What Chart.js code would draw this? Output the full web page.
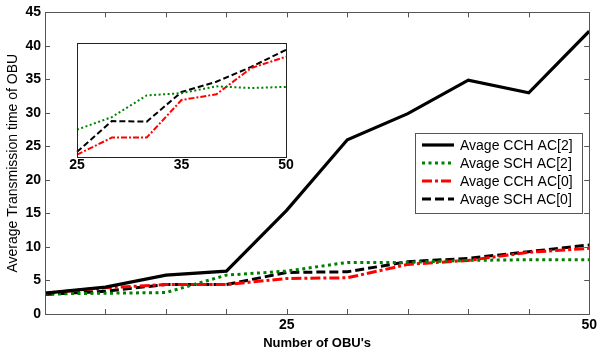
<!DOCTYPE html>
<html>
<head>
<meta charset="utf-8">
<script src="https://cdn.jsdelivr.net/npm/chart.js@4"></script>
<style>
  body { margin: 0; background: #fff; }
  #wrap { position: relative; width: 600px; height: 353px; }
  #mainChart { position: absolute; left: 0; top: 0; }
  #insetChart { position: absolute; left: 60px; top: 35px; }
</style>
</head>
<body>
<div id="wrap">
  <canvas id="mainChart" width="600" height="353"></canvas>
  <canvas id="insetChart" width="240" height="150"></canvas>
</div>
<script>
// numero de OBU (eje x principal)
const obuCounts = [5, 10, 15, 20, 25, 30, 35, 40, 45, 50];

// tiempos medios
const cchAc2 = [3.1, 4.0, 5.8, 6.4, 15.5, 26.0, 29.9, 34.9, 33.0, 42.2];
const schAc2 = [3.0, 3.1, 3.2, 5.8, 6.4, 7.7, 7.7, 8.0, 8.1, 8.1];
const cchAc0 = [3.1, 3.9, 4.4, 4.4, 5.3, 5.4, 7.4, 8.0, 9.2, 9.8];
const schAc0 = [2.9, 3.4, 4.4, 4.4, 6.2, 6.3, 7.8, 8.3, 9.3, 10.3];

const seriesNames = ['Avage CCH AC[2]', 'Avage SCH AC[2]', 'Avage CCH AC[0]', 'Avage SCH AC[0]'];

// recuadro interior (sin escala y visible)
const insetLabels = ['25', '', '', '35', '', '', '50'];
const insetSchAc2 = [2.4, 3.5, 5.4, 5.6, 6.2, 6.05, 6.15];
const insetCchAc0 = [0.2, 1.7, 1.7, 5.0, 5.5, 7.8, 8.8];
const insetSchAc0 = [0.45, 3.15, 3.1, 5.7, 6.6, 7.9, 9.4];

Chart.defaults.font.family = '"Liberation Sans", Arial, sans-serif';
Chart.defaults.color = '#000';

const toPoints = ys => ys.map((y, i) => ({ x: obuCounts[i], y: y }));

// marcas hacia dentro en los cuatro lados + marco
const boxTicks = {
    id: 'boxTicks',
    afterDraw(chart, args, opts) {
        const ctx = chart.ctx;
        const a = chart.chartArea;
        const len = opts.len || 0;
        ctx.save();
        ctx.strokeStyle = opts.color;
        ctx.lineWidth = opts.width;
        ctx.beginPath();
        if (len > 0) {
            const xs = chart.scales.x;
            xs.ticks.forEach(t => {
                const px = Math.round(xs.getPixelForValue(t.value)) + 0.5;
                ctx.moveTo(px, a.bottom); ctx.lineTo(px, a.bottom - len);
                ctx.moveTo(px, a.top); ctx.lineTo(px, a.top + len);
            });
            const ys = chart.scales.y;
            ys.ticks.forEach(t => {
                const py = Math.round(ys.getPixelForValue(t.value)) + 0.5;
                ctx.moveTo(a.left, py); ctx.lineTo(a.left + len, py);
                ctx.moveTo(a.right, py); ctx.lineTo(a.right - len, py);
            });
        }
        ctx.stroke();
        ctx.strokeRect(Math.round(a.left) + 0.5, Math.round(a.top) + 0.5,
            Math.round(a.right - a.left), Math.round(a.bottom - a.top));
        ctx.restore();
    }
};

// leyenda dentro del area de datos
const boxLegend = {
    id: 'boxLegend',
    afterDraw(chart, args, opts) {
        const ctx = chart.ctx;
        ctx.save();
        ctx.fillStyle = '#fff';
        ctx.fillRect(opts.x, opts.y, opts.w, opts.h);
        ctx.strokeStyle = '#555';
        ctx.lineWidth = 1;
        ctx.strokeRect(opts.x + 0.5, opts.y + 0.5, opts.w, opts.h);
        ctx.font = '14px "Liberation Sans", Arial, sans-serif';
        ctx.textBaseline = 'middle';
        chart.data.datasets.forEach((ds, i) => {
            const cy = opts.y + 12 + i * 18;
            ctx.beginPath();
            ctx.setLineDash(ds.borderDash || []);
            ctx.strokeStyle = ds.borderColor;
            ctx.lineWidth = ds.borderWidth;
            ctx.moveTo(opts.x + 7, cy);
            ctx.lineTo(opts.x + 39, cy);
            ctx.stroke();
            ctx.setLineDash([]);
            ctx.fillStyle = '#000';
            ctx.fillText(ds.label, opts.x + 45, cy + 1);
        });
        ctx.restore();
    }
};

new Chart(document.getElementById('mainChart'), {
    type: 'line',
    data: {
        datasets: [
            { label: seriesNames[0], data: toPoints(cchAc2), borderColor: '#000', borderWidth: 3.2, borderDash: [] },
            { label: seriesNames[1], data: toPoints(schAc2), borderColor: '#008000', borderWidth: 3, borderDash: [3, 3.5] },
            { label: seriesNames[2], data: toPoints(cchAc0), borderColor: '#ff0000', borderWidth: 3, borderDash: [10, 3, 3, 3] },
            { label: seriesNames[3], data: toPoints(schAc0), borderColor: '#000', borderWidth: 3, borderDash: [9, 4] }
        ]
    },
    options: {
        responsive: false,
        animation: false,
        layout: { padding: { left: 0, top: 11, right: 10, bottom: 0 } },
        elements: { point: { radius: 0 }, line: { tension: 0, borderCapStyle: 'butt' } },
        plugins: {
            legend: { display: false },
            tooltip: { enabled: false },
            boxTicks: { color: '#555', width: 1, len: 5 },
            boxLegend: { x: 415, y: 133, w: 167, h: 80 }
        },
        scales: {
            x: {
                type: 'linear',
                min: 5,
                max: 50,
                afterFit: s => { s.height = 39; },
                grid: { display: false, drawTicks: false },
                border: { display: false },
                ticks: {
                    stepSize: 5,
                    padding: 3,
                    maxRotation: 0,
                    autoSkip: false,
                    font: { size: 14, weight: 'bold' },
                    callback: v => (v === 25 || v === 50) ? String(v) : ''
                },
                title: {
                    display: true,
                    text: "Number of OBU's",
                    font: { size: 13, weight: 'bold' },
                    padding: { top: 0, bottom: 2 }
                }
            },
            y: {
                min: 0,
                max: 45,
                afterFit: s => { s.width = 45; },
                grid: { display: false, drawTicks: false },
                border: { display: false },
                ticks: { stepSize: 5, padding: 4, font: { size: 14, weight: 'bold' } },
                title: {
                    display: true,
                    text: 'Average Transmission time of OBU',
                    font: { size: 14 },
                    padding: { top: 5, bottom: 0 }
                }
            }
        }
    },
    plugins: [boxTicks, boxLegend]
});

// fondo blanco del recuadro
const insetBg = {
    id: 'insetBg',
    beforeDraw(chart) {
        const a = chart.chartArea;
        chart.ctx.save();
        chart.ctx.fillStyle = '#fff';
        chart.ctx.fillRect(a.left, a.top, a.right - a.left, a.bottom - a.top);
        chart.ctx.restore();
    }
};

new Chart(document.getElementById('insetChart'), {
    type: 'line',
    data: {
        labels: insetLabels,
        datasets: [
            { label: seriesNames[1], data: insetSchAc2, borderColor: '#008000', borderWidth: 2, borderDash: [2, 2.5] },
            { label: seriesNames[2], data: insetCchAc0, borderColor: '#ff0000', borderWidth: 2, borderDash: [6, 2, 2, 2] },
            { label: seriesNames[3], data: insetSchAc0, borderColor: '#000', borderWidth: 2, borderDash: [6, 3] }
        ]
    },
    options: {
        responsive: false,
        animation: false,
        layout: { padding: { left: 17, top: 8, right: 14, bottom: 0 } },
        elements: { point: { radius: 0 }, line: { tension: 0, borderCapStyle: 'butt' } },
        plugins: {
            legend: { display: false },
            tooltip: { enabled: false },
            boxTicks: { color: '#222', width: 1, len: 0 }
        },
        scales: {
            x: {
                type: 'category',
                offset: false,
                afterFit: s => { s.height = 28; },
                grid: { display: false, drawTicks: false },
                border: { display: false },
                ticks: { padding: 0, maxRotation: 0, autoSkip: false, font: { size: 14, weight: 'bold' } }
            },
            y: { display: false, min: 0, max: 10 }
        }
    },
    plugins: [insetBg, boxTicks]
});
</script>
</body>
</html>
